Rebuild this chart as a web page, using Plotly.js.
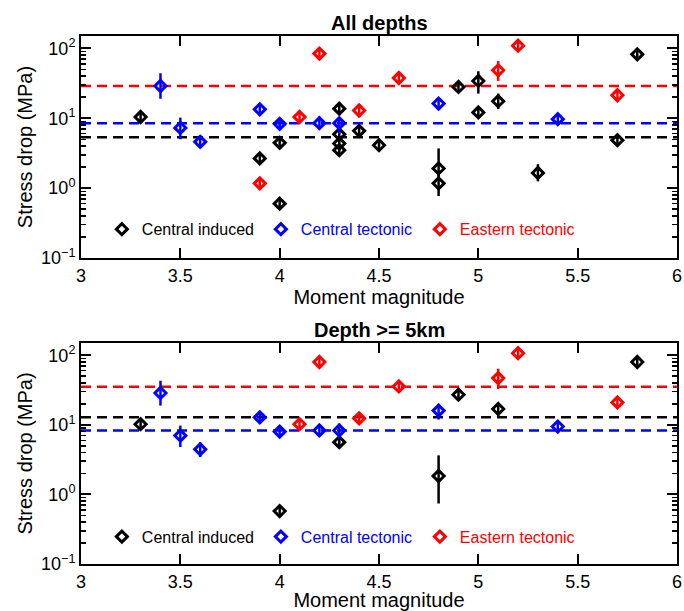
<!DOCTYPE html>
<html>
<head>
<meta charset="utf-8">
<script src="https://cdn.plot.ly/plotly-3.0.1.min.js"></script>
<style>html,body{margin:0;padding:0;background:#fff;}</style>
</head>
<body>
<div id="chart" style="width:684px;height:611px;"></div>
<script>
// ---------- Panel 1: All depths ----------
const allInducedMw = [3.3, 3.9, 4.0, 4.0, 4.3, 4.3, 4.3, 4.3, 4.4, 4.5, 4.8, 4.8, 4.9, 5.0, 5.0, 5.1, 5.3, 5.7, 5.8];
const allInducedSD = [10.4, 2.66, 4.44, 0.60, 13.7, 5.9, 4.35, 3.49, 6.6, 4.11, 1.91, 1.17, 28, 34.1, 12.1, 17.5, 1.65, 4.85, 82];
const allInducedHi = [12.5, 3.1, 5.2, 0.7, 17, 6.8, 5.0, 4.0, 7.6, 4.7, 3.7, 1.6, 33, 47, 14, 22.5, 2.2, 5.7, 95];
const allInducedLo = [8.8, 2.2, 3.8, 0.5, 11, 5.0, 3.9, 3.0, 5.8, 3.6, 1.4, 0.77, 24, 22.5, 10.5, 13.5, 1.25, 4.1, 70];

const allCTecMw = [3.4, 3.5, 3.6, 3.9, 4.0, 4.2, 4.3, 4.8, 5.4];
const allCTecSD = [28.9, 7.27, 4.59, 13.4, 8.3, 8.5, 8.5, 16.2, 9.7];
const allCTecHi = [44, 10.2, 5.7, 16.4, 9.8, 9.8, 10.4, 19, 11.2];
const allCTecLo = [19, 5.0, 3.77, 10.8, 7.0, 7.4, 6.0, 13.8, 8.4];

const allETecMw = [3.9, 4.1, 4.2, 4.4, 4.6, 5.1, 5.2, 5.7];
const allETecSD = [1.17, 10.4, 84, 12.9, 37.6, 48.5, 109, 21.3];
const allETecHi = [1.35, 12, 98, 16, 44, 65.7, 125, 25];
const allETecLo = [1.0, 9, 72, 10.8, 32, 34.1, 95, 18];

const allMeans = {induced: 5.35, ctec: 8.49, etec: 28.9};

// ---------- Panel 2: Depth >= 5km ----------
const deepInducedMw = [3.3, 4.0, 4.3, 4.8, 4.9, 5.1, 5.8];
const deepInducedSD = [10.2, 0.577, 5.64, 1.84, 27.1, 16.9, 80];
const deepInducedHi = [12, 0.67, 6.5, 3.64, 31.5, 20.4, 93];
const deepInducedLo = [8.8, 0.5, 4.9, 0.74, 23.5, 12.8, 69];

const deepCTecMw = [3.4, 3.5, 3.6, 3.9, 4.0, 4.2, 4.3, 4.8, 5.4];
const deepCTecSD = [28.7, 7.0, 4.44, 12.8, 8.0, 8.3, 8.3, 16.0, 9.45];
const deepCTecHi = [43, 9.75, 5.6, 15, 9.4, 9.6, 10.4, 20, 11];
const deepCTecLo = [18.9, 4.8, 3.44, 10.9, 6.8, 7.2, 6.4, 11.9, 8.1];

const deepETecMw = [4.1, 4.2, 4.4, 4.6, 5.1, 5.2, 5.7];
const deepETecSD = [10.2, 80, 12.4, 35.6, 46.9, 107, 21];
const deepETecHi = [11.8, 93, 14.4, 41, 64, 123, 24.5];
const deepETecLo = [8.8, 69, 10.7, 30.5, 32.7, 93, 18];

const deepMeans = {induced: 12.8, ctec: 8.3, etec: 35.2};

const seriesNames = ['Central induced', 'Central tectonic', 'Eastern tectonic'];
const seriesColors = ['#000000', '#0000ff', '#ff0000'];
const xTickVals = [3, 3.5, 4, 4.5, 5, 5.5, 6];
const yTickVals = [0.1, 1, 10, 100];
const yTickText = ['10<sup>\u22121</sup>', '10<sup>0</sup>', '10<sup>1</sup>', '10<sup>2</sup>'];
const yMinorVals = [0.2, 0.3, 0.4, 0.5, 0.6, 0.7, 0.8, 0.9, 2, 3, 4, 5, 6, 7, 8, 9, 20, 30, 40, 50, 60, 70, 80, 90];
const xRange = [3, 6];
const yMax = 150;
const panelTitles = ['All depths', 'Depth >= 5km'];

const FONT = 'Liberation Sans, Arial, Helvetica, sans-serif';

function meanLine(val, color, xa, ya) {
  return {x: xRange, y: [val, val], xaxis: xa, yaxis: ya, mode: 'lines',
    line: {color: color, width: 2.5, dash: '10px,6px'}, showlegend: false, hoverinfo: 'skip'};
}
function series(mw, sd, hi, lo, idx, xa, ya, leg) {
  return {x: mw, y: sd, xaxis: xa, yaxis: ya, mode: 'markers', type: 'scatter',
    name: '<span style="color:' + seriesColors[idx] + '">' + seriesNames[idx] + '</span>',
    legend: leg,
    marker: {symbol: 'diamond-open', size: 8.5, color: seriesColors[idx], line: {width: 3, color: seriesColors[idx]}},
    error_y: {type: 'data', symmetric: false,
      array: hi.map((h, i) => h - sd[i]), arrayminus: lo.map((l, i) => sd[i] - l),
      color: seriesColors[idx], thickness: 2.5, width: 0}};
}

const traces = [
  meanLine(allMeans.etec, seriesColors[2], 'x', 'y'),
  meanLine(allMeans.ctec, seriesColors[1], 'x', 'y'),
  meanLine(allMeans.induced, seriesColors[0], 'x', 'y'),
  series(allInducedMw, allInducedSD, allInducedHi, allInducedLo, 0, 'x', 'y', 'legend'),
  series(allCTecMw, allCTecSD, allCTecHi, allCTecLo, 1, 'x', 'y', 'legend'),
  series(allETecMw, allETecSD, allETecHi, allETecLo, 2, 'x', 'y', 'legend'),
  meanLine(deepMeans.etec, seriesColors[2], 'x2', 'y2'),
  meanLine(deepMeans.ctec, seriesColors[1], 'x2', 'y2'),
  meanLine(deepMeans.induced, seriesColors[0], 'x2', 'y2'),
  series(deepInducedMw, deepInducedSD, deepInducedHi, deepInducedLo, 0, 'x2', 'y2', 'legend2'),
  series(deepCTecMw, deepCTecSD, deepCTecHi, deepCTecLo, 1, 'x2', 'y2', 'legend2'),
  series(deepETecMw, deepETecSD, deepETecHi, deepETecLo, 2, 'x2', 'y2', 'legend2')
];

function xAxis(anchor) {
  return {anchor: anchor, domain: [0, 1], range: xRange, tickmode: 'array', tickvals: xTickVals,
    ticks: 'inside', ticklen: 10, tickwidth: 2, tickcolor: '#000', showline: true, linewidth: 2, linecolor: '#000',
    mirror: 'ticks', showgrid: false, zeroline: false, tickfont: {size: 18, color: '#000', family: FONT},
    title: {text: 'Moment magnitude', font: {size: 20, color: '#000', family: FONT}, standoff: 2}};
}
function yAxis(anchor, domain) {
  return {anchor: anchor, domain: domain, type: 'log', range: [-1, Math.log10(yMax)],
    tickmode: 'array', tickvals: yTickVals, ticktext: yTickText,
    ticks: 'inside', ticklen: 10, tickwidth: 2, tickcolor: '#000', showline: true, linewidth: 2, linecolor: '#000',
    mirror: 'ticks', showgrid: false, zeroline: false, tickfont: {size: 18, color: '#000', family: FONT},
    minor: {tickmode: 'array', tickvals: yMinorVals, ticks: 'inside', ticklen: 5, tickwidth: 1.5, tickcolor: '#000', showgrid: false},
    title: {text: 'Stress drop (MPa)', font: {size: 20, color: '#000', family: FONT}, standoff: 3}};
}
function legendCfg(y) {
  return {orientation: 'h', x: 0.035, xanchor: 'left', y: y, yanchor: 'middle',
    bgcolor: 'rgba(0,0,0,0)', borderwidth: 0, font: {size: 16, family: FONT, color: '#000'},
    entrywidth: 114, entrywidthmode: 'pixels', itemwidth: 30, traceorder: 'normal', itemclick: false};
}

const layout = {
  width: 684, height: 611,
  margin: {l: 81, r: 7, t: 36, b: 47},
  paper_bgcolor: '#fff', plot_bgcolor: '#fff',
  font: {family: FONT, color: '#000'},
  xaxis: xAxis('y'),
  yaxis: yAxis('x', [0.5795, 1]),
  xaxis2: xAxis('y2'),
  yaxis2: yAxis('x2', [0, 0.4186]),
  legend: legendCfg(0.634),
  legend2: legendCfg(0.0517),
  showlegend: true,
  annotations: [
    {text: '<b>' + panelTitles[0] + '</b>', xref: 'x domain', yref: 'y domain', x: 0.5, y: 1,
      xanchor: 'center', yanchor: 'bottom', yshift: 0, showarrow: false, font: {size: 20, family: FONT, color: '#000'}},
    {text: '<b>' + panelTitles[1] + '</b>', xref: 'x2 domain', yref: 'y2 domain', x: 0.5, y: 1,
      xanchor: 'center', yanchor: 'bottom', yshift: 0, showarrow: false, font: {size: 20, family: FONT, color: '#000'}}
  ]
};

Plotly.newPlot('chart', traces, layout, {displayModeBar: false, staticPlot: true});
</script>
</body>
</html>
